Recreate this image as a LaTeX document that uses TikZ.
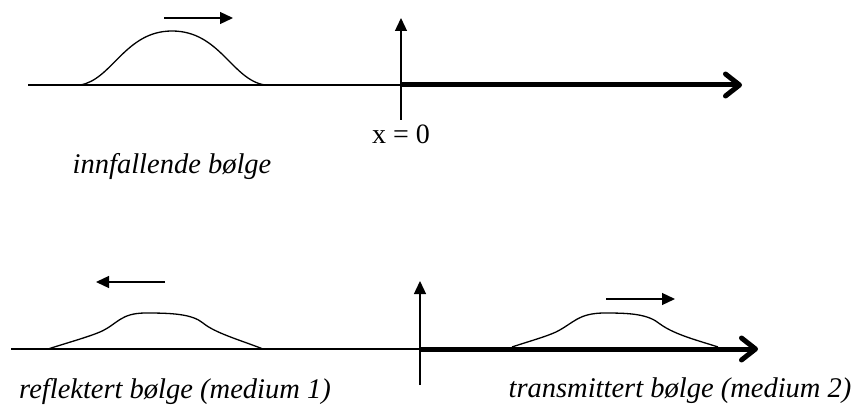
\documentclass[tikz,border=0pt]{standalone}
\usepackage{fontspec}
\setmainfont{Liberation Serif}
\usetikzlibrary{arrows.meta}

\begin{document}
\begin{tikzpicture}[
  x=1pt, y=-1pt,
  font=\fontsize{28}{32}\selectfont,
  >={Triangle[length=13pt,width=12pt]},
  axis/.style={line width=1.3pt},
  medium/.style={line width=5pt, -{Straight Barb[length=14pt,width=22pt,line join=round,line cap=round]}},
  pulse/.style={line width=1.3pt},
  lbl/.style={font=\fontsize{28.5}{32}\selectfont\itshape},
]
\useasboundingbox (0,0) rectangle (852,409);

% ================= TOP: incident wave =================
\coordinate (aL)  at (28,85);
\coordinate (a0)  at (401,85);
\coordinate (aR)  at (742,85);
\coordinate (aUp) at (401,18);
\coordinate (aDn) at (401,120);
\coordinate (vS)  at (164,18);
\coordinate (vE)  at (233,18);

\node (xnull) at (401,134) {x = 0};
\node[lbl] (inn) at (172,167) {innfallende bølge};

\draw[axis] (aL) -- (a0);
\draw[medium] (a0) -- (aR);
\draw[axis,->] (aDn) -- (aUp);
\draw[axis,->] (vS) -- (vE);

\draw[pulse] (80,85) .. controls (112,80) and (125,31) .. (172,31)
  .. controls (220,31) and (232,80) .. (265,85);

% ================= BOTTOM: reflected + transmitted =================
\coordinate (bL)  at (11,349);
\coordinate (b0)  at (420,349);
\coordinate (bR)  at (758,349);
\coordinate (bUp) at (420,281);
\coordinate (bDn) at (420,385);
\coordinate (rS)  at (165,282);
\coordinate (rE)  at (96,282);
\coordinate (tS)  at (606,299);
\coordinate (tE)  at (675,299);

\node[lbl] (refl)  at (175,391) {reflektert bølge (medium 1)};
\node[lbl] (trans) at (680,391) {transmittert bølge (medium 2)};

\draw[axis] (bL) -- (b0);
\draw[medium] (b0) -- (bR);
\draw[axis,->] (bDn) -- (bUp);
\draw[axis,->] (rS) -- (rE);
\draw[axis,->] (tS) -- (tE);

\draw[pulse] (48,349) .. controls (70,342) and (88,337) .. (100,332)
  .. controls (118,324) and (120,313) .. (146,313)
  .. controls (172,313) and (192,314) .. (203,323)
  .. controls (215,333) and (240,340) .. (263,349);
\draw[pulse] (512,347) .. controls (530,341) and (545,337) .. (556,332)
  .. controls (574,323) and (578,313) .. (605,313)
  .. controls (630,313) and (648,314) .. (660,324)
  .. controls (675,335) and (700,341) .. (718,347);

\end{tikzpicture}
\end{document}
